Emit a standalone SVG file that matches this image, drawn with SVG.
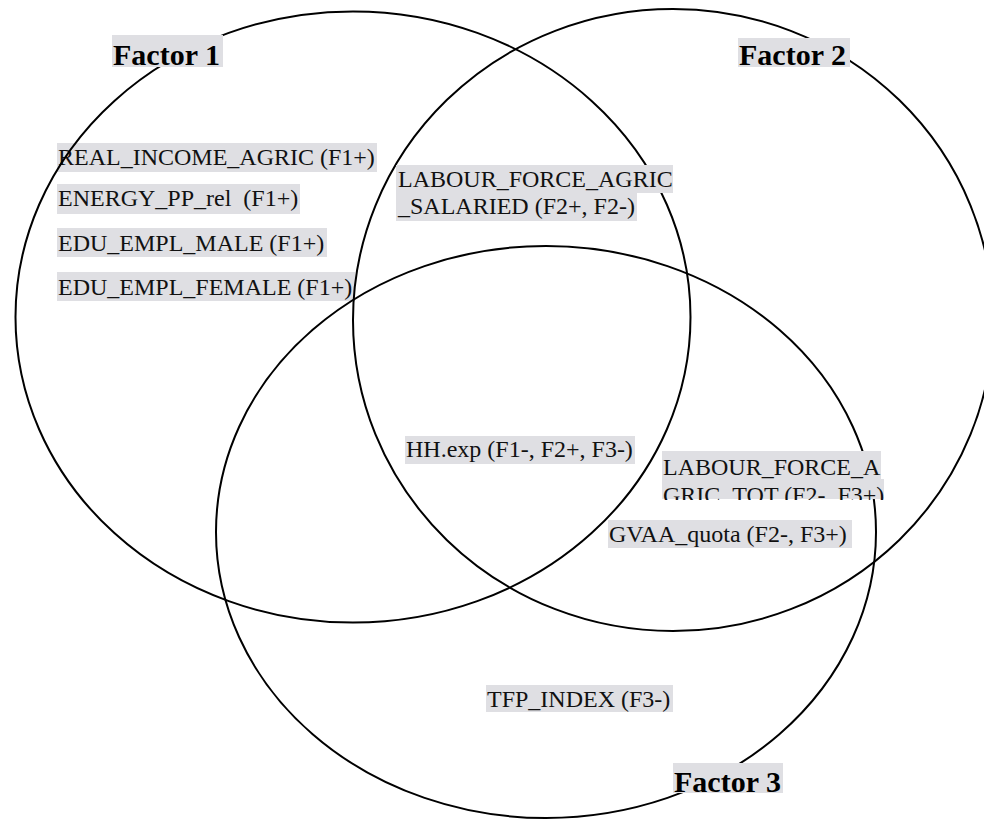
<svg xmlns="http://www.w3.org/2000/svg" width="984" height="822" viewBox="0 0 984 822">
<style>
.ring{fill:none;stroke:#000;stroke-width:2}
.hl{fill:#dfdfe3}
.t{font-family:"Liberation Serif","Times New Roman",serif;font-size:24px;fill:#111;white-space:pre}
.f{font-family:"Liberation Serif","Times New Roman",serif;font-size:30px;font-weight:bold;fill:#000}
</style>
<defs>
<clipPath id="clipTot"><rect x="660" y="450" width="230" height="50"/></clipPath>
</defs>
<rect width="984" height="822" fill="#fff"/>
<g id="factor1-items">
<rect class="hl" x="57" y="143" width="320" height="29"/>
<text class="t" x="58" y="165">REAL_INCOME_AGRIC (F1+)</text>
<rect class="hl" x="57" y="184" width="243" height="30"/>
<text class="t" x="58" y="206" xml:space="preserve">ENERGY_PP_rel  (F1+)</text>
<rect class="hl" x="57" y="228" width="270" height="29"/>
<text class="t" x="58" y="251">EDU_EMPL_MALE (F1+)</text>
<rect class="hl" x="57" y="272" width="298" height="29"/>
<text class="t" x="58" y="295">EDU_EMPL_FEMALE (F1+)</text>
</g>
<g id="circles">
<ellipse id="factor1" class="ring" cx="353" cy="317" rx="337.5" ry="305.6"/>
<ellipse id="factor2" class="ring" cx="673" cy="320" rx="320" ry="311"/>
<ellipse id="factor3" class="ring" cx="546" cy="532" rx="330" ry="286"/>
</g>
<g id="label-factor1">
<rect class="hl" x="112" y="35" width="111" height="32"/>
<text class="f" x="113" y="65">Factor 1</text>
</g>
<g id="label-factor2">
<rect class="hl" x="738" y="38" width="112" height="29"/>
<text class="f" x="739" y="65">Factor 2</text>
</g>
<g id="label-factor3">
<rect class="hl" x="673" y="763" width="110" height="30"/>
<text class="f" x="674" y="792">Factor 3</text>
</g>
<g id="labour-salaried">
<rect class="hl" x="396" y="165" width="277" height="28"/>
<text class="t" x="398" y="187">LABOUR_FORCE_AGRIC</text>
<rect class="hl" x="396" y="193" width="241" height="28"/>
<text class="t" x="398" y="214">_SALARIED (F2+, F2-)</text>
</g>
<g id="hh-exp">
<rect class="hl" x="405" y="436" width="230" height="28"/>
<text class="t" x="406" y="457">HH.exp (F1-, F2+, F3-)</text>
</g>
<g id="labour-tot">
<rect fill="#fff" x="662" y="451" width="222" height="48"/>
<rect class="hl" x="662" y="451" width="219" height="28"/>
<rect class="hl" x="662" y="479" width="222" height="20"/>
<g clip-path="url(#clipTot)">
<text class="t" x="663" y="475">LABOUR_FORCE_A</text>
<text class="t" x="663" y="503">GRIC_TOT (F2-, F3+)</text>
</g>
</g>
<g id="gvaa">
<rect class="hl" x="608" y="520" width="244" height="28"/>
<text class="t" x="609" y="542">GVAA_quota (F2-, F3+)</text>
</g>
<g id="tfp">
<rect class="hl" x="486" y="685" width="187" height="27"/>
<text class="t" x="487" y="707">TFP_INDEX (F3-)</text>
</g>
</svg>
